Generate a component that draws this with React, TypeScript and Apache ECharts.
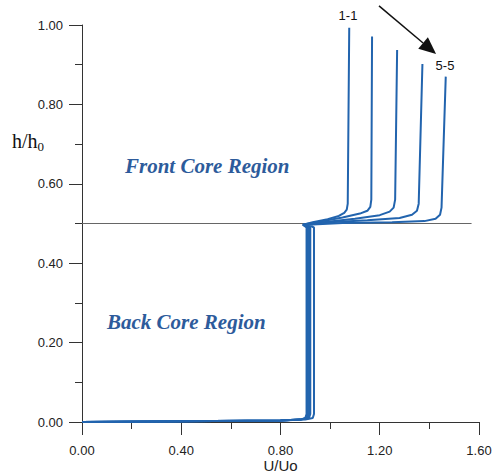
import React, { useEffect, useRef } from "react";
import * as echarts from "echarts";

const xTicks = [0, 0.4, 0.8, 1.2, 1.6];
const yTicks = [0, 0.2, 0.4, 0.6, 0.8, 1.0];

const curve1 = [[0,0],[0.4,0.002],[0.8,0.004],[0.88,0.006],[0.9,0.01],[0.905,0.02],[0.905,0.49],[0.89,0.497],[0.93,0.503],[0.99,0.511],[1.035,0.519],[1.057,0.527],[1.067,0.535],[1.071,0.55],[1.077,0.993]];
const curve2 = [[0,0],[0.4,0.002],[0.8,0.004],[0.88,0.006],[0.905,0.01],[0.91,0.02],[0.91,0.49],[0.89,0.497],[0.96,0.505],[1.05,0.515],[1.12,0.525],[1.15,0.532],[1.162,0.542],[1.166,0.56],[1.169,0.971]];
const curve3 = [[0,0],[0.4,0.002],[0.8,0.004],[0.88,0.006],[0.91,0.01],[0.915,0.02],[0.915,0.49],[0.895,0.497],[0.98,0.504],[1.1,0.512],[1.2,0.521],[1.24,0.53],[1.256,0.54],[1.262,0.56],[1.27,0.937]];
const curve4 = [[0,0],[0.4,0.002],[0.8,0.004],[0.88,0.006],[0.915,0.01],[0.92,0.02],[0.92,0.49],[0.9,0.497],[1.0,0.503],[1.15,0.508],[1.28,0.514],[1.33,0.522],[1.35,0.532],[1.357,0.55],[1.372,0.902]];
const curve5 = [[0,0],[0.4,0.002],[0.8,0.004],[0.9,0.006],[0.93,0.01],[0.935,0.02],[0.935,0.49],[0.91,0.497],[1.05,0.501],[1.25,0.503],[1.38,0.506],[1.425,0.512],[1.443,0.522],[1.449,0.54],[1.466,0.87]];
const curves = [curve1, curve2, curve3, curve4, curve5];
const curveNames = ["1-1", "2-2", "3-3", "4-4", "5-5"];

const dividerLine = [[0, 0.5], [1.57, 0.5]];
const arrowStart = [1.197, 1.048];
const arrowTip = [1.427, 0.927];
const label11 = [1.072, 1.025];
const label55 = [1.463, 0.897];

const LINE_COLOR = "#2264ae";
const TEXT_BLUE = "#2d5b9b";
const SANS = "'Liberation Sans', Arial, Helvetica, sans-serif";
const SERIF = "'Liberation Serif', 'Times New Roman', serif";

export default function App() {
  const ref = useRef<HTMLDivElement>(null);
  useEffect(() => {
    if (!ref.current) return;
    const chart = echarts.init(ref.current, undefined, { renderer: "svg" });
    const axisCommon = {
      axisLine: { show: true, lineStyle: { color: "#333", width: 1 } },
      axisTick: { show: true, inside: false, length: 13, lineStyle: { color: "#333", width: 1 } },
      minorTick: { show: true, splitNumber: 2, length: 7, lineStyle: { color: "#333", width: 1 } },
      splitLine: { show: false },
      axisLabel: {
        color: "#222",
        fontSize: 13,
        fontFamily: SANS,
        formatter: (v: number) => v.toFixed(2),
      },
    };
    chart.setOption({
      animation: false,
      backgroundColor: "#fff",
      grid: {
        left: 82,
        right: 15,
        top: 25,
        bottom: 54,
        containLabel: false,
        outerBoundsMode: "none",
      },
      xAxis: {
        type: "value",
        min: xTicks[0],
        max: xTicks[xTicks.length - 1],
        interval: 0.4,
        ...axisCommon,
        axisLabel: { ...axisCommon.axisLabel, margin: 22 },
      },
      yAxis: {
        type: "value",
        min: yTicks[0],
        max: yTicks[yTicks.length - 1],
        interval: 0.2,
        ...axisCommon,
        axisLabel: { ...axisCommon.axisLabel, margin: 19 },
      },
      series: [
        {
          type: "line",
          name: "divider",
          data: dividerLine,
          showSymbol: false,
          symbol: "none",
          clip: false,
          lineStyle: { color: "#666", width: 1 },
          z: 1,
        },
        ...curves.map((c, i) => ({
          type: "line",
          name: curveNames[i],
          data: c,
          showSymbol: false,
          symbol: "none",
          clip: false,
          lineStyle: { color: LINE_COLOR, width: 2 },
          z: 2,
        })),
      ],
    });

    const p0 = chart.convertToPixel({ gridIndex: 0 }, arrowStart) as number[];
    const p1 = chart.convertToPixel({ gridIndex: 0 }, arrowTip) as number[];
    const q1 = chart.convertToPixel({ gridIndex: 0 }, label11) as number[];
    const q5 = chart.convertToPixel({ gridIndex: 0 }, label55) as number[];
    const a0 = chart.convertToPixel({ gridIndex: 0 }, [xTicks[0], 0]) as number[];
    const a1 = chart.convertToPixel({ gridIndex: 0 }, [xTicks[xTicks.length - 1], 0]) as number[];
    const dx = p1[0] - p0[0];
    const dy = p1[1] - p0[1];
    const len = Math.sqrt(dx * dx + dy * dy);
    const ux = dx / len;
    const uy = dy / len;
    const headLen = 17;
    const headHalf = 7.5;
    const bx = p1[0] - ux * headLen;
    const by = p1[1] - uy * headLen;

    chart.setOption({
      graphic: [
        {
          type: "line",
          shape: { x1: p0[0], y1: p0[1], x2: bx, y2: by },
          style: { stroke: "#111", lineWidth: 1.5 },
        },
        {
          type: "polygon",
          shape: {
            points: [
              [p1[0], p1[1]],
              [bx - uy * headHalf, by + ux * headHalf],
              [bx + uy * headHalf, by - ux * headHalf],
            ],
          },
          style: { fill: "#111" },
        },
        {
          type: "text",
          x: q1[0],
          y: q1[1],
          style: { text: "1-1", fill: "#111", font: `13px ${SANS}`, align: "center", verticalAlign: "middle" },
        },
        {
          type: "text",
          x: q5[0],
          y: q5[1],
          style: { text: "5-5", fill: "#111", font: `13px ${SANS}`, align: "center", verticalAlign: "middle" },
        },
        {
          type: "text",
          x: (a0[0] + a1[0]) / 2,
          y: a0[1] + 43,
          style: { text: "U/Uo", fill: "#222", font: `15px ${SANS}`, align: "center", verticalAlign: "middle" },
        },
        {
          type: "text",
          left: 125,
          top: 155,
          style: {
            text: "Front Core Region",
            fill: TEXT_BLUE,
            font: `italic bold 21px ${SERIF}`,
          },
        },
        {
          type: "text",
          left: 107,
          top: 311,
          style: {
            text: "Back Core Region",
            fill: TEXT_BLUE,
            font: `italic bold 21px ${SERIF}`,
          },
        },
        {
          type: "text",
          left: 12,
          top: 131,
          style: {
            text: "h/h{sub|0}",
            fill: "#111",
            font: `20px ${SERIF}`,
            rich: {
              sub: { fontSize: 13, fontFamily: SERIF, fill: "#111", padding: [10, 0, 0, 0] },
            },
          },
        },
      ],
    });
    return () => chart.dispose();
  }, []);
  return (
    <div
      ref={ref}
      style={{ position: "absolute", left: 0, top: 0, width: 494, height: 476 }}
    />
  );
}
